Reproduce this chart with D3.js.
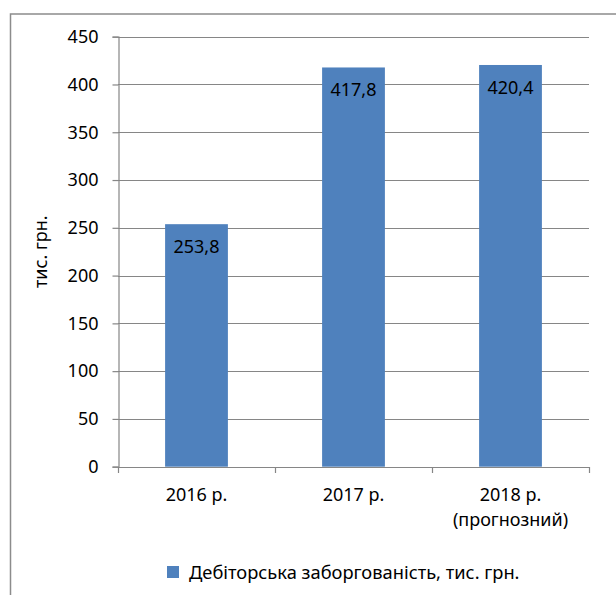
<!DOCTYPE html>
<html>
<head>
<meta charset="utf-8">
<script src="https://cdn.jsdelivr.net/npm/d3@7"></script>
<style>
  html, body { margin: 0; padding: 0; background: #fff; }
  svg { display: block; }
  text { font-family: "Noto Sans", "Open Sans", sans-serif; fill: #000; }
</style>
</head>
<body>
<svg id="chart" width="616" height="595"></svg>
<script>
const categories = [["2016 р."], ["2017 р."], ["2018 р.", "(прогнозний)"]];
const categoryKeys = ["2016", "2017", "2018"];
const values = [253.8, 417.8, 420.4];
const valueLabels = ["253,8", "417,8", "420,4"];
const yTicks = [0, 50, 100, 150, 200, 250, 300, 350, 400, 450];
const yAxisTitle = "тис. грн.";
const seriesName = "Дебіторська заборгованість, тис. грн.";

const svg = d3.select("#chart");
const plot = { left: 118, right: 589, top: 36.7, bottom: 466.7 };
const gridColor = "#868686";
const barColor = "#4F81BD";
const fs = 18;

// outer frame
svg.append("rect")
  .attr("x", 10.5).attr("y", 14)
  .attr("width", 700).attr("height", 700)
  .attr("fill", "none").attr("stroke", "#8c8c8c").attr("stroke-width", 1.5);

const x = d3.scaleBand()
  .domain(categoryKeys)
  .range([plot.left, plot.right])
  .paddingInner(0.6)
  .paddingOuter(0.3);

const y = d3.scaleLinear()
  .domain([0, 450])
  .range([plot.bottom, plot.top]);

// gridlines
svg.append("g")
  .selectAll("line")
  .data(yTicks.filter(d => d !== 0))
  .join("line")
  .attr("x1", plot.left).attr("x2", plot.right)
  .attr("y1", d => Math.round(y(d)) + 0.5).attr("y2", d => Math.round(y(d)) + 0.5)
  .attr("stroke", gridColor).attr("stroke-width", 1.2);

// bars
svg.append("g")
  .selectAll("rect")
  .data(values)
  .join("rect")
  .attr("x", (d, i) => x(categoryKeys[i]))
  .attr("width", x.bandwidth())
  .attr("y", d => y(d))
  .attr("height", d => y(0) - y(d))
  .attr("fill", barColor);

// y axis
const yAxis = d3.axisLeft(y).tickValues(yTicks).tickSize(6).tickPadding(14)
  .tickFormat(d3.format("d"));
const gy = svg.append("g")
  .attr("transform", `translate(${plot.left + 0.5},0)`)
  .call(yAxis);
gy.select(".domain").attr("stroke", gridColor).attr("stroke-width", 1.2);
gy.selectAll(".tick line").attr("stroke", gridColor).attr("stroke-width", 1.2);
gy.selectAll(".tick text")
  .attr("font-size", fs)
  .attr("font-family", "Noto Sans, Open Sans, sans-serif")
  .attr("fill", "#000");

// x axis baseline & ticks at category boundaries
const step = x.step();
const boundaries = [0, 1, 2, 3].map(i => plot.left + i * step);
svg.append("line")
  .attr("x1", plot.left).attr("x2", plot.right)
  .attr("y1", Math.round(y(0)) + 0.5).attr("y2", Math.round(y(0)) + 0.5)
  .attr("stroke", gridColor).attr("stroke-width", 1.2);
svg.append("g")
  .selectAll("line")
  .data(boundaries)
  .join("line")
  .attr("x1", d => Math.round(d) + 0.5).attr("x2", d => Math.round(d) + 0.5)
  .attr("y1", Math.round(y(0))).attr("y2", Math.round(y(0)) + 6)
  .attr("stroke", gridColor).attr("stroke-width", 1.2);

// x labels
const xl = svg.append("g")
  .selectAll("text")
  .data(categories)
  .join("text")
  .attr("text-anchor", "middle")
  .attr("font-size", fs)
  .attr("x", (d, i) => x(categoryKeys[i]) + x.bandwidth() / 2)
  .attr("y", 501);
xl.selectAll("tspan")
  .data(d => d)
  .join("tspan")
  .attr("x", function() { return d3.select(this.parentNode).attr("x"); })
  .attr("dy", (d, i) => i === 0 ? 0 : 25)
  .text(d => d);

// data labels
svg.append("g")
  .selectAll("text")
  .data(values)
  .join("text")
  .attr("text-anchor", "middle")
  .attr("font-size", fs)
  .attr("x", (d, i) => x(categoryKeys[i]) + x.bandwidth() / 2)
  .attr("y", d => y(d) + 29)
  .text((d, i) => valueLabels[i]);

// y axis title
svg.append("text")
  .attr("transform", `translate(47,${(plot.top + plot.bottom) / 2}) rotate(-90)`)
  .attr("text-anchor", "middle")
  .attr("font-size", fs)
  .text(yAxisTitle);

// legend
const lg = svg.append("g");
lg.append("rect")
  .attr("x", 167).attr("y", 566)
  .attr("width", 12).attr("height", 12)
  .attr("fill", barColor);
lg.append("text")
  .attr("x", 189).attr("y", 578.5)
  .attr("font-size", 18.3)
  .text(seriesName);
</script>
</body>
</html>
